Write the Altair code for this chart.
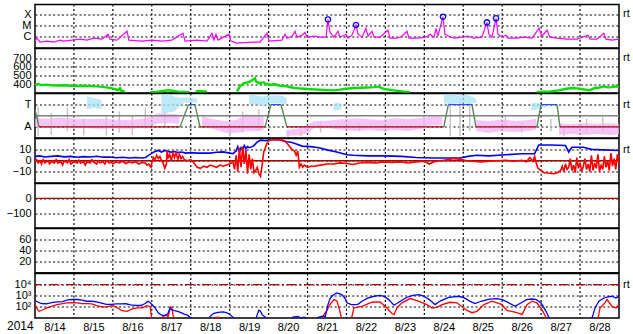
import altair as alt
import pandas as pd

W = 584
H_TOP = 43.6
H = 44.5
FONT = "Liberation Sans"
FS = 11
DOT = [2, 2.4]
DARKRED = "#b00000"

# ---------- time axis: hours since 2014-08-14 00:00 UT ----------
DAY_LINES = [24, 48, 72, 96, 120, 144, 168, 192, 216, 240, 264, 288, 312, 336]
DAY_MIDS = [12, 36, 60, 84, 108, 132, 156, 180, 204, 228, 252, 276, 300, 324, 348]

# ---------- panel 1: GOES X-ray flux (units of 1e-6 W/m^2) ----------
XRAY_H = [0, 1.2, 3.1, 7.4, 11.7, 15.4, 17.9, 22.8, 27.7, 32,
          36.4, 41.3, 45, 46.2, 50.5, 56.7, 57.9, 66, 72.1, 78.3,
          84.4, 91.2, 92.5, 99.9, 106, 109.1, 110.3, 111.6, 112.8, 119.6,
          120.8, 124.5, 133.8, 138.7, 143, 144.2, 152.3, 154.1, 155.3, 158.4,
          160.3, 161.5, 164.6, 166.4, 167.7, 172, 175.7, 179.4, 180.6, 181.8,
          184.3, 186.8, 188, 191.7, 192.9, 195.4, 197.9, 199.1, 201.6, 204,
          205.3, 207.7, 209, 212.7, 217.6, 218.8, 223.1, 226.2, 229.3, 230.5,
          235.5, 241, 243.5, 246, 247.2, 248.4, 251.5, 252.7, 255.2, 258.3,
          263.2, 266.9, 270.6, 275.5, 278.6, 279.8, 281.7, 284.2, 285.4, 287.9,
          290.3, 291.6, 297.1, 301.4, 306.4, 310.7, 312.5, 315.6, 317.4, 321.8,
          327.9, 334.1, 340.9, 342.1, 346.4, 350.7, 352, 355.7, 360]
XRAY_V = [0.38, 0.7, 0.31, 0.38, 0.31, 0.47, 0.38, 0.47, 0.57, 0.47,
          0.7, 0.57, 1.6, 0.57, 0.47, 3.0, 0.47, 0.38, 0.47, 0.38,
          0.47, 2.0, 0.38, 0.47, 0.38, 2.0, 0.47, 1.6, 0.47, 1.6,
          0.38, 0.25, 0.31, 0.31, 2.0, 0.38, 0.47, 1.6, 0.7, 1.06,
          3.0, 0.87, 1.3, 2.4, 0.87, 1.06, 0.87, 0.87, 35, 2.4,
          0.87, 3.0, 0.87, 1.6, 0.7, 1.3, 11, 1.6, 0.87, 5.5,
          1.06, 3.0, 0.87, 0.87, 3.7, 0.7, 0.7, 1.06, 3.0, 0.7,
          0.7, 0.87, 1.6, 0.87, 5.5, 1.06, 62, 1.6, 1.06, 0.7,
          0.87, 1.06, 0.7, 0.87, 19, 1.6, 0.87, 44, 1.6, 0.87,
          1.3, 0.7, 0.7, 0.87, 0.7, 5.5, 1.06, 3.7, 0.87, 0.7,
          0.57, 0.57, 1.3, 0.57, 0.57, 2.0, 0.57, 0.47, 0.57]
FLARE_H = [180.6, 197.9, 251.5, 278.6, 284.2]
FLARE_V = [35, 11, 62, 19, 44]

# ---------- panel 2: solar wind speed (km/s), separate data segments ----------
WIND1_H = [0, 2, 4, 7, 10, 14, 18, 22, 26, 30, 34, 38, 42, 46, 49, 51, 52.4, 53, 55.5]
WIND1_V = [395, 402, 388, 393, 386, 383, 386, 380, 378, 380, 376, 373, 368, 355, 345, 330, 352, 325, 310]
WIND2_H = [71, 75, 79, 82, 85, 88, 92, 95]
WIND2_V = [305, 308, 320, 328, 322, 312, 308, 306]
WIND3_H = [99, 102, 106]
WIND3_V = [314, 318, 312]
WIND4_H = [124.5, 126.3, 128.8, 131.9, 135, 135.6, 136.3, 138, 141, 142, 144.9, 148, 151, 155, 159.7,
           163, 167.7, 172, 175.7, 180, 184.3, 188, 190.4, 196.6, 204.6, 209, 212, 215.2, 221.3, 227.5, 231.2]
WIND4_V = [316, 373, 411, 423, 458, 469, 430, 411, 420, 405, 392, 398, 381, 375, 354,
           350, 342, 338, 334, 330, 327, 335, 342, 354, 360, 365, 370, 342, 327, 311, 304]
WIND5_H = [309.4, 313, 317, 320, 323, 326.6, 331, 334, 337.2, 341.5, 345.2, 348, 350.7, 353, 355.7, 358, 360]
WIND5_V = [304, 310, 312, 320, 327, 342, 354, 350, 342, 327, 354, 360, 373, 362, 365, 375, 370]

# ---------- panel 3: IMF angle (deg); A = 135, T = 315 ----------
PINK = [
    ([0, 8, 16, 24, 32, 40, 48, 56, 64, 70, 76, 84, 89],
     [133, 125, 133, 125, 125, 117, 125, 117, 125, 130, 165, 165, 160],
     [205, 200, 210, 200, 197, 200, 197, 190, 197, 210, 245, 240, 235]),
    ([103, 110, 118, 124, 130, 136, 141],
     [141, 117, 85, 85, 100, 100, 110],
     [221, 197, 181, 190, 237, 225, 220]),
    ([155, 162, 168, 172, 180, 189, 198, 206, 214, 222, 230, 238, 245, 251],
     [61, 65, 80, 125, 125, 110, 101, 110, 101, 110, 101, 117, 149, 149],
     [109, 120, 150, 181, 185, 197, 205, 197, 190, 205, 197, 205, 221, 215]),
    ([272, 280, 288, 296, 304, 309],
     [101, 85, 101, 93, 101, 110],
     [190, 181, 197, 181, 190, 200]),
    ([323, 330, 338, 346, 354, 360],
     [69, 77, 69, 77, 69, 75],
     [165, 157, 165, 160, 165, 160]),
]
CYAN = [
    ([32, 36, 41], [277, 290, 280], [381, 370, 350]),
    ([78, 82, 86, 89, 92, 96, 100], [245, 250, 260, 300, 330, 333, 333], [390, 405, 380, 370, 373, 373, 365]),
    ([132, 136, 140, 144, 148, 152, 155], [317, 320, 300, 325, 325, 325, 320], [397, 390, 380, 389, 389, 389, 370]),
    ([184, 187, 189], [269, 270, 280], [325, 330, 320]),
    ([252, 256, 260, 264, 268, 272], [325, 320, 325, 325, 320, 330], [389, 400, 389, 395, 389, 360]),
    ([306, 309, 312, 316], [269, 275, 290, 300], [325, 330, 320, 315]),
]
GRAY_H = [2, 10, 20, 30, 44, 52, 60, 68, 80, 120, 128, 138, 156, 164, 176, 200, 240, 256, 262, 268,
          290, 300, 318, 326, 340, 350]
GRAY_LO = [60, 70, 100, 65, 65, 90, 70, 120, 130, 60, 90, 100, 55, 60, 90, 100, 120, 60, 60, 100,
           130, 90, 100, 60, 80, 100]
GRAY_HI = [300, 250, 290, 200, 230, 260, 230, 290, 260, 120, 260, 280, 100, 110, 180, 160, 230, 330, 340, 330,
           230, 170, 200, 140, 200, 220]
SECT_T0 = [0, 2.5, 89.4, 94.6, 98.6, 101.7, 141.8, 145.5, 151.6, 155.3, 252, 254.8, 269.4, 271.8, 309.4, 311.9, 321.8, 323.6]
SECT_T1 = [2.5, 89.4, 94.6, 98.6, 101.7, 141.8, 145.5, 151.6, 155.3, 252, 254.8, 269.4, 271.8, 309.4, 311.9, 321.8, 323.6, 360]
SECT_V0 = [277, 135, 135, 315, 315, 135, 135, 315, 315, 135, 135, 315, 315, 135, 135, 315, 315, 135]
SECT_V1 = [135, 135, 315, 315, 135, 135, 315, 315, 135, 135, 315, 315, 135, 135, 315, 315, 135, 135]
SECT_KIND = ["S", "A", "S", "T", "S", "A", "S", "T", "S", "A", "S", "T", "S", "A", "S", "T", "S", "A"]

# ---------- panel 4: Bt and Bz (nT) ----------
BT_H = [0, 3, 6, 10, 14, 18, 22, 26, 30, 34, 38, 42, 46, 50, 54, 58, 62, 66, 68, 70,
        72, 74, 76, 78, 80, 82, 84, 86, 88, 90, 93, 96, 100, 104, 108, 112, 116, 120, 122, 124,
        125, 126, 127, 128, 129, 130, 131, 132, 133.8, 135, 136.8, 139, 142, 145, 149, 152, 155, 158, 162, 164.6,
        170, 175, 180, 186, 190, 192.3, 196, 205, 215, 226, 235, 245, 255, 262, 267, 272, 280, 290, 300, 308,
        310.5, 318, 327, 329, 331, 338, 343, 350, 360]
BT_V = [4, 4.5, 3.5, 4, 4.5, 3.6, 4, 3.2, 3.8, 3.5, 4.2, 3.3, 3.5, 2.8, 3.2, 2.6, 3, 2.5, 3, 5,
        7, 8.5, 9.5, 8, 9.5, 8.5, 8, 8.5, 7.5, 8, 7, 7.5, 7, 7.2, 7, 7.8, 8.2, 7, 6.5, 9,
        13, 8, 12, 10, 14, 11, 13, 12, 13, 14, 17, 19, 18.5, 19.5, 19.5, 19, 17.5, 17, 15, 13.5,
        13, 12, 10, 8, 6.5, 5.5, 5, 4.5, 4.5, 4, 3, 2.5, 2.5, 2.5, 4, 5, 4.5, 5.5, 6.5, 6.5,
        14.5, 14.5, 14, 8, 12.5, 12.5, 10.5, 10, 9.5]
BZ_H = [0, 1, 2, 3, 4, 5, 6, 8, 9, 10, 12, 13, 14, 16, 17, 18, 20, 21, 22, 24,
        26, 27, 28, 30, 31, 32, 34, 35, 36, 38, 39, 40, 42, 43, 44, 46, 47, 48, 50, 52,
        54, 56, 58, 60, 62, 64, 66, 68, 69, 70, 71.5, 72, 73, 74, 75, 76, 77, 78, 79, 80,
        81, 81.4, 82, 83, 84, 85, 86, 87, 88, 89, 90, 91, 92, 94, 96, 98, 100, 102, 104, 106,
        108, 110, 112, 114, 116, 118, 120, 122, 123, 124, 125, 126, 127, 128, 129, 130, 131, 132, 133, 134,
        135, 136, 137, 138, 139, 140, 141, 142, 143, 144, 146, 150, 152, 154, 156, 158, 160, 161, 162, 163,
        164, 165, 166, 168, 170, 172, 176, 180, 184, 188, 192, 196, 200, 205, 210, 215, 220, 225, 230, 235,
        240, 243, 246, 250, 255, 258, 262, 266, 270, 275, 280, 285, 290, 295, 300, 303, 305, 307, 308, 309,
        310, 312, 314, 317, 320, 322, 324, 325, 326, 327, 328, 329, 330, 331, 332, 333, 334, 335, 336, 337,
        338, 339, 340, 341, 342, 343, 344, 345, 346, 347, 348, 349, 350, 351, 352, 353, 354, 355, 356, 357,
        358, 359, 360]
BZ_V = [-1, 1, -2, 0, -3, 1, -2, 0, -3, -1, -2, 1, -2, -1, -4, 0, -2, 1, -3, -1,
        -2, 0.5, -2, -1, -4, -1, -2, 1, -1, -3, 0, -2, -1, -3, 0, -2, -1, -3, -1, -2,
        -0.5, -2.5, -1, -2, -1, -3, -1.5, -2, -4, -3, -6, -2, 3, 1, 5, 2, 4, 0, -2, -7,
        -3, 9, 2, 6, 0, 7, 3, 8, 1, 6, 2, 4, 1, 0, 1, -2, -6, -7, -5, -6,
        -4, -5, -6, -4, -5, -4, -3, -1, -8, 5, -10, 12, -6, 13, -3, 10, -12, 6, -8, 2,
        -11, -9, -6, -12, -14.5, -4, 8, 12, 16, 18.5, 19.5, 19.5, 19, 18, 15, 11, 9, 5, 9, -6,
        -3, -6, -4, -6, -5, -5, -4, -3, -3, -2, -2.5, -3.5, -2, -1.5, -2, -1, -1.5, -1, -2, -1,
        -0.5, -3, -1, 0, 1, 2, 1.5, 0, -0.5, -1, -0.5, 0, 0.5, -0.5, 0.5, -1, 3, -0.5, 4, -2,
        -7, -9, -11, -11.5, -12, -11, -9, -5, -10, -3, -8, -6, 2, -9, -4, -11, 3, -7, -2, -10,
        -5, 2, -8, -3, -10, 5, -9, -2, -7, 6, -10, -4, -8, 4, -6, 0, -9, 7, -5, 2,
        -8, 6, -3]

# ---------- panel 7: particle fluxes (log), separate data segments ----------
BLUE = [
    ([0, 2, 4, 7, 11, 14, 17, 20, 23, 26, 29, 32, 35, 38, 41, 44, 47, 50, 53, 56,
      59, 62, 65, 68, 69.6, 70, 71, 73, 74, 76, 78, 80, 82, 83.2, 84, 86, 88, 90, 92, 94, 96, 97],
     [370, 260, 200, 190, 250, 280, 300, 420, 460, 460, 400, 320, 320, 280, 220, 170, 165, 185, 185, 190,
      150, 135, 133, 200, 320, 300, 230, 120, 80, 29, 18, 16, 25, 80, 60, 45, 40, 30, 22, 18, 10, 7]),
    ([107, 108, 110, 112, 114, 116, 118, 120, 122, 123],
     [8, 14, 25, 30, 34, 35, 30, 22, 12, 7]),
    ([136, 137, 138, 139, 140, 142, 143],
     [7, 20, 50, 40, 20, 12, 7]),
    ([158, 159, 162, 164, 166, 168, 172, 175, 177, 179, 180.6, 182, 183, 185, 186, 188, 189, 191, 192.3, 195,
      197, 199, 201.6, 205, 209, 212.7, 215, 218, 221.3, 225, 229, 233, 236.7, 240, 243, 246.6, 250, 255, 261.4, 265,
      268, 271.2, 275, 280, 284.8, 288, 291, 295.9, 300, 303, 306.4, 309, 312, 315, 317, 318],
     [7, 12, 14, 10, 12, 8, 7, 12, 15, 14, 160, 600, 900, 1500, 1780, 1500, 1270, 630, 230, 160,
      160, 170, 320, 600, 900, 1100, 900, 450, 140, 300, 700, 1100, 1260, 900, 450, 160, 350, 700, 900, 600,
      330, 200, 320, 500, 560, 450, 280, 115, 250, 450, 510, 450, 230, 40, 10, 7]),
    ([343, 344, 345.2, 347.6, 350.7, 353.2, 355.7, 358.1, 360],
     [7, 20, 80, 320, 630, 800, 900, 630, 900]),
]
RED = [
    ([0, 1.5, 2.5, 5, 7.4, 10, 13.6, 17, 19.7, 23, 26, 29, 32, 35, 38, 41.3, 44, 47.5, 50, 53.6,
      56.7, 60, 63, 66, 69, 70.9, 72],
     [160, 60, 40, 55, 80, 110, 160, 200, 230, 240, 230, 200, 200, 190, 130, 100, 100, 130, 100, 45,
      40, 65, 80, 80, 130, 110, 8]),
    ([78, 79, 81, 82, 83.5, 84.4, 85, 86], [8, 15, 20, 12, 100, 90, 20, 8]),
    ([110, 111, 113, 114], [8, 11, 12, 8]),
    ([177, 178, 180, 181.8, 184.3, 186.2, 188, 189], [8, 18, 50, 160, 460, 320, 40, 8]),
    ([195, 196.6, 201.6, 207.7, 212.7, 217, 220.1, 221.3, 223.1, 226.2, 231.2, 235.5, 241.6, 244.7, 247.8, 250.9,
      255.8, 260.1, 266.3, 269.4, 272.4, 276.8, 281.7, 287.9, 290.9, 297.1, 300.2, 303.3, 306.4, 309.4, 312.5, 315.6],
     [8, 80, 110, 260, 280, 80, 24, 20, 80, 230, 560, 360, 160, 80, 90, 160,
      260, 230, 48, 30, 40, 160, 320, 160, 48, 30, 20, 160, 320, 230, 56, 8]),
    ([347, 348.3, 351.3, 352.6, 355.7, 358.1, 360], [8, 80, 230, 460, 110, 80, 160]),
]


# ---------- helpers ----------
def seg_df(segs, cols):
    rows = []
    for i, seg in enumerate(segs):
        for vals in zip(*seg):
            r = dict(zip(cols, vals))
            r["seg"] = i
            rows.append(r)
    return pd.DataFrame(rows)


XS = alt.Scale(domain=[0, 360], nice=False, zero=False)


def xenc(field, bottom=False):
    if bottom:
        ax = alt.Axis(values=DAY_MIDS, labelExpr="'8/' + (14 + floor(datum.value / 24))",
                      grid=False, ticks=False, domain=False, labelPadding=3,
                      labelFlush=False, labelOverlap=False, title=None)
        return alt.X(field, type="quantitative", scale=XS, axis=ax)
    return alt.X(field, type="quantitative", scale=XS, axis=None)


def yaxis(values, expr=None):
    kw = dict(values=values, grid=True, ticks=False, domain=False, title=None,
              labelOverlap=False, labelFlush=False, labelPadding=4)
    if expr:
        kw["labelExpr"] = expr
    return alt.Axis(**kw)


def day_rules(bottom=False):
    return alt.Chart(pd.DataFrame({"t": DAY_LINES})).mark_rule(
        color="black", strokeDash=DOT, strokeWidth=1.2).encode(x=xenc("t", bottom))


def rt_label(v, scale, axis, bottom=False):
    return alt.Chart(pd.DataFrame({"t": [360], "v": [v], "s": ["rt"]})).mark_text(
        align="left", baseline="middle", dx=4, fontSize=FS, font=FONT, color="black").encode(
        x=xenc("t", bottom), y=alt.Y("v:Q", scale=scale, axis=axis), text="s:N")


# ---------- panel 1 ----------
S1 = alt.Scale(type="log", domain=[8.9e-8, 7.9e-4], nice=False)
A1 = yaxis([1e-6, 1e-5, 1e-4], "datum.value > 5e-5 ? 'X' : (datum.value > 5e-6 ? 'M' : 'C')")
df_x = pd.DataFrame({"t": XRAY_H, "v": [c * 1e-6 for c in XRAY_V]})
df_f = pd.DataFrame({"t": FLARE_H, "v": [c * 1e-6 for c in FLARE_V]})
p1 = alt.layer(
    day_rules(),
    alt.Chart(df_x).mark_line(color="#ff00ff", strokeWidth=1.2, clip=True).encode(
        x=xenc("t"), y=alt.Y("v:Q", scale=S1, axis=A1)),
    alt.Chart(df_f).mark_point(shape="circle", filled=False, color="#0000ff", size=28,
                               strokeWidth=1.3, opacity=1).encode(
        x=xenc("t"), y=alt.Y("v:Q", scale=S1, axis=A1)),
    rt_label(1e-4, S1, A1),
).properties(width=W, height=H_TOP)

# ---------- panel 2 ----------
S2 = alt.Scale(domain=[296, 815], nice=False, zero=False)
A2 = yaxis([400, 500, 600, 700])
df_w = seg_df([(WIND1_H, WIND1_V), (WIND2_H, WIND2_V), (WIND3_H, WIND3_V),
               (WIND4_H, WIND4_V), (WIND5_H, WIND5_V)], ["t", "v"])
p2 = alt.layer(
    day_rules(),
    alt.Chart(df_w).mark_line(color="#00e000", strokeWidth=2.4, clip=True).encode(
        x=xenc("t"), y=alt.Y("v:Q", scale=S2, axis=A2), detail="seg:N"),
    rt_label(700, S2, A2),
).properties(width=W, height=H)

# ---------- panel 3 ----------
S3 = alt.Scale(domain=[45, 405], nice=False, zero=False)
A3 = yaxis([135, 315], "datum.value > 200 ? 'T' : 'A'")
df_p = seg_df(PINK, ["t", "lo", "hi"])
df_c = seg_df(CYAN, ["t", "lo", "hi"])
df_g = pd.DataFrame({"t": GRAY_H, "lo": GRAY_LO, "hi": GRAY_HI})
df_s = pd.DataFrame({"t": SECT_T0, "t2": SECT_T1, "v": SECT_V0, "v2": SECT_V1, "k": SECT_KIND})
p3 = alt.layer(
    day_rules(),
    alt.Chart(df_g).mark_rule(color="#c4c4c4", strokeWidth=1.4, clip=True).encode(
        x=xenc("t"), y=alt.Y("lo:Q", scale=S3, axis=A3), y2="hi:Q"),
    alt.Chart(df_p).mark_area(color="#f4b0f4", opacity=0.75, clip=True).encode(
        x=xenc("t"), y=alt.Y("lo:Q", scale=S3, axis=A3), y2="hi:Q", detail="seg:N"),
    alt.Chart(df_c).mark_area(color="#a8e2f6", opacity=0.75, clip=True).encode(
        x=xenc("t"), y=alt.Y("lo:Q", scale=S3, axis=A3), y2="hi:Q", detail="seg:N"),
    alt.Chart(pd.DataFrame({"v": [225]})).mark_rule(color="#808080", strokeWidth=1.5).encode(
        y=alt.Y("v:Q", scale=S3, axis=A3)),
    alt.Chart(df_s).mark_rule(strokeWidth=1.4, clip=True).encode(
        x=xenc("t"), x2="t2:Q", y=alt.Y("v:Q", scale=S3, axis=A3), y2="v2:Q",
        color=alt.Color("k:N", scale=alt.Scale(domain=["A", "T", "S"],
                                               range=[DARKRED, "#3050f0", "#558855"]), legend=None)),
    rt_label(315, S3, A3),
).properties(width=W, height=H)

# ---------- panel 4 ----------
S4 = alt.Scale(domain=[-20.5, 20.5], nice=False, zero=False)
A4 = yaxis([-10, 0, 10])
df_bt = pd.DataFrame({"t": BT_H, "v": BT_V})
df_bz = pd.DataFrame({"t": BZ_H, "v": BZ_V})
p4 = alt.layer(
    day_rules(),
    alt.Chart(pd.DataFrame({"v": [0]})).mark_rule(color=DARKRED, strokeWidth=1.3).encode(
        y=alt.Y("v:Q", scale=S4, axis=A4)),
    alt.Chart(df_bt).mark_line(color="#0000ff", strokeWidth=1.6, clip=True).encode(
        x=xenc("t"), y=alt.Y("v:Q", scale=S4, axis=A4)),
    alt.Chart(df_bz).mark_line(color="#ff0000", strokeWidth=1.6, clip=True).encode(
        x=xenc("t"), y=alt.Y("v:Q", scale=S4, axis=A4)),
    rt_label(10, S4, A4),
).properties(width=W, height=H)

# ---------- panel 5 ----------
S5 = alt.Scale(domain=[-200, 100], nice=False, zero=False)
A5 = yaxis([-100, 0])
p5 = alt.layer(
    day_rules(),
    alt.Chart(pd.DataFrame({"v": [0]})).mark_rule(color=DARKRED, strokeWidth=1.3).encode(
        y=alt.Y("v:Q", scale=S5, axis=A5)),
).properties(width=W, height=H)

# ---------- panel 6 ----------
S6 = alt.Scale(domain=[0, 80], nice=False, zero=False)
A6 = yaxis([20, 40, 60])
p6 = alt.layer(
    day_rules(),
    alt.Chart(pd.DataFrame({"v": [0]})).mark_rule(color="black", strokeWidth=1.5).encode(
        y=alt.Y("v:Q", scale=S6, axis=A6)),
).properties(width=W, height=H)

# ---------- panel 7 ----------
S7 = alt.Scale(type="log", domain=[10, 1e5], nice=False)
A7 = yaxis([100, 1000, 10000], "datum.value > 5000 ? '10⁴' : (datum.value > 500 ? '10³' : '10²')")
df_red = seg_df(RED, ["t", "v"])
df_blue = seg_df(BLUE, ["t", "v"])
p7 = alt.layer(
    day_rules(True),
    alt.Chart(pd.DataFrame({"v": [1e4]})).mark_rule(color=DARKRED, strokeWidth=1.3,
                                                    strokeDash=[9, 3, 2, 3]).encode(
        y=alt.Y("v:Q", scale=S7, axis=A7)),
    alt.Chart(df_red).mark_line(color="#ff0000", strokeWidth=1.3, clip=True).encode(
        x=xenc("t", True), y=alt.Y("v:Q", scale=S7, axis=A7), detail="seg:N"),
    alt.Chart(df_blue).mark_line(color="#0000ff", strokeWidth=1.3, clip=True).encode(
        x=xenc("t", True), y=alt.Y("v:Q", scale=S7, axis=A7), detail="seg:N"),
    rt_label(1e4, S7, A7, True),
    alt.Chart(pd.DataFrame({"s": ["2014"]})).mark_text(
        align="left", baseline="top", fontSize=12, font=FONT, color="black").encode(
        x=alt.value(-28), y=alt.value(H + 3), text="s:N"),
).properties(width=W, height=H)

chart = alt.vconcat(p1, p2, p3, p4, p5, p6, p7, spacing=0, bounds="flush").properties(
    padding={"left": 5, "top": 2.5, "right": 0, "bottom": 0},
    background="white",
).configure_view(
    stroke="black", strokeWidth=1.5
).configure_axis(
    labelFont=FONT, labelFontSize=FS, labelColor="black",
    gridColor="black", gridDash=DOT, gridWidth=1.2, gridOpacity=1,
    minExtent=28, maxExtent=28,
)

chart.save("out.html", embed_options={"renderer": "svg", "actions": False})
